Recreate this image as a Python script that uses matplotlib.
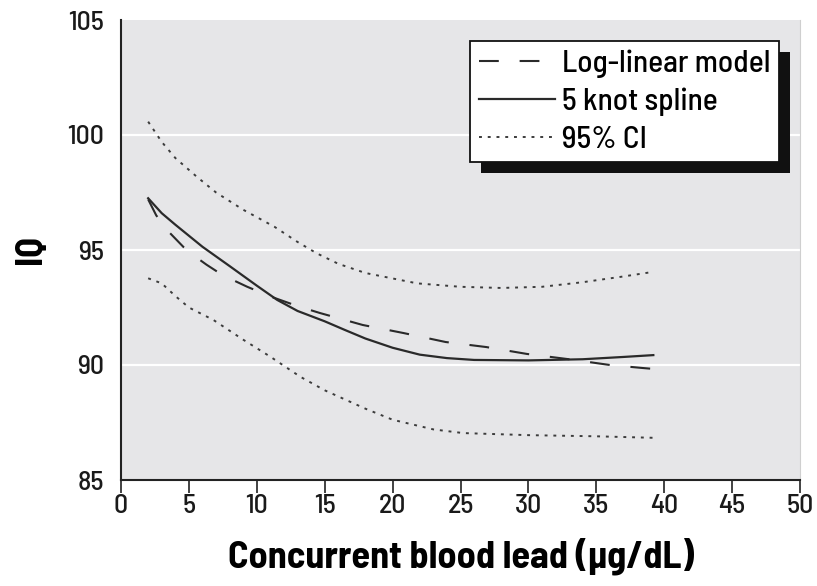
import matplotlib
matplotlib.use("Agg")
import matplotlib.pyplot as plt
from matplotlib import font_manager as fm
from matplotlib.patches import Rectangle

names = {f.name for f in fm.fontManager.ttflist}
pref = ['Barlow Semi Condensed', 'Barlow Condensed', 'Archivo Narrow', 'Asap Condensed']
FONT = [p for p in pref if p in names][:1] + ['DejaVu Sans']
plt.rcParams['font.family'] = FONT

# Data
x_log = [2, 2.6, 3, 3.6, 4.6, 5.5, 6.3, 7.5, 9.3, 11, 13, 14.65, 17.8, 20.8, 23.9, 26.9, 29.9, 33, 36, 38.4, 39]
iq_log = [97.2, 96.5, 96.2, 95.74, 95.13, 94.7, 94.36, 93.9, 93.4, 92.98, 92.56, 92.26, 91.74, 91.39,
          91.0, 90.78, 90.48, 90.25, 90.0, 89.87, 89.84]

x_spl = [2, 3, 4, 6, 8, 10, 11.5, 13, 15, 16.5, 18, 20, 22, 24, 26, 30, 34, 37, 39.2]
iq_spl = [97.25, 96.6, 96.1, 95.14, 94.3, 93.45, 92.83, 92.35, 91.9, 91.52, 91.15, 90.75, 90.45,
          90.3, 90.22, 90.2, 90.25, 90.35, 90.43]

x_up = [2, 3, 4, 5.57, 7, 9, 11.3, 13, 14.4, 16, 18, 21.8, 25, 28, 31, 34, 37, 39.2]
iq_up = [100.58, 99.7, 99.0, 98.19, 97.5, 96.75, 96.01, 95.35, 94.86, 94.4, 94.0, 93.55, 93.4,
         93.35, 93.4, 93.6, 93.85, 94.05]

x_lo = [2, 3, 4, 5, 6.8, 9, 11, 13.2, 15, 18, 20, 23, 25.2, 30, 35, 39.5]
iq_lo = [93.77, 93.55, 93.0, 92.5, 91.96, 91.1, 90.36, 89.49, 88.9, 88.1, 87.62, 87.2, 87.04,
         86.95, 86.9, 86.83]

xticks = list(range(0, 51, 5))
yticks = [85, 90, 95, 100, 105]

fig = plt.figure(figsize=(8.17, 5.86), dpi=100)
ax = fig.add_axes([121 / 817, 1 - 480 / 586, 679 / 817, 460 / 586])
ax.set_facecolor('#e6e6e8')
ax.set_xlim(0, 50)
ax.set_ylim(85, 105)
for yv in [90, 95, 100]:
    ax.axhline(yv, color='white', lw=1.6, zorder=1)

line_col = '#2a2a2a'
ax.plot(x_log, iq_log, color=line_col, lw=1.5, dashes=(9.5, 10), zorder=3, label='Log-linear model')
ax.plot(x_spl, iq_spl, color=line_col, lw=1.6, zorder=3, label='5 knot spline')
ax.plot(x_up, iq_up, color='#3c3c3c', lw=1.4, dashes=(1.5, 3.0), zorder=3, label='95% CI')
ax.plot(x_lo, iq_lo, color='#3c3c3c', lw=1.4, dashes=(1.5, 3.0), zorder=3)

ax.set_xticks(xticks)
ax.set_yticks(yticks)
ax.tick_params(axis='x', direction='out', length=9, width=1.2, labelsize=20, color='#222222', pad=1)
ax.tick_params(axis='y', direction='out', length=0, labelsize=20, pad=12)
for lab in ax.get_xticklabels() + ax.get_yticklabels():
    lab.set_fontweight('medium')
    lab.set_color('#1a1a1a')
ax.spines['top'].set_visible(False)
ax.spines['right'].set_color('#cfcfcf')
ax.spines['left'].set_linewidth(1.5)
ax.spines['bottom'].set_linewidth(1.5)
ax.spines['left'].set_color('#222222')
ax.spines['bottom'].set_color('#222222')
ax.set_xlabel('Concurrent blood lead (µg/dL)', fontsize=27.5, fontweight='bold', labelpad=14)
ax.set_ylabel('IQ', fontsize=27, fontweight='bold', labelpad=14)

leg = ax.legend(loc='upper left', bbox_to_anchor=((470 - 121) / 679, (480 - 41) / 460), frameon=True,
                fancybox=False, handlelength=2.45, handletextpad=0.22, borderpad=0.28,
                labelspacing=0.3, borderaxespad=0, prop={'weight': 'medium', 'size': 22.5})
leg.get_frame().set_edgecolor('#111111')
leg.get_frame().set_linewidth(1.3)
leg.get_frame().set_facecolor('white')
leg.get_frame().set_alpha(1)
leg.set_zorder(6)
fig.canvas.draw()
bb = leg.get_window_extent().transformed(fig.transFigure.inverted())
shadow = Rectangle((bb.x0 + 11 / 817, bb.y0 - 11 / 586), bb.width, bb.height,
                   transform=fig.transFigure, facecolor='#111111', edgecolor='none', zorder=5,
                   clip_on=False)
ax.add_artist(shadow)

fig.savefig('out.png', dpi=100)
